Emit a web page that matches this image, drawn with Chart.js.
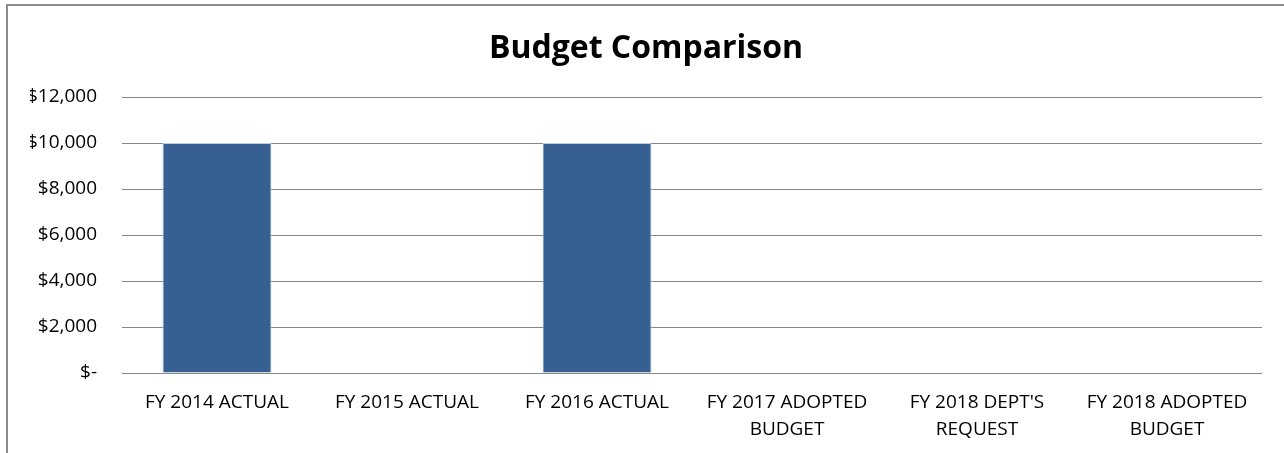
<!DOCTYPE html>
<html>
<head>
<meta charset="utf-8">
<script src="https://cdn.jsdelivr.net/npm/chart.js@4"></script>
<style>
  body { margin: 0; background: #fff; }
  #wrap { position: relative; width: 1284px; height: 453px; overflow: hidden; }
  #frame { position: absolute; left: 6px; top: 4px; width: 1300px; height: 470px;
           border-left: 2px solid #8c8c8c; border-top: 2px solid #8c8c8c; }
  #budgetChart { position: absolute; left: 0; top: 0; }
</style>
</head>
<body>
<div id="wrap">
  <div id="frame"></div>
  <canvas id="budgetChart" width="1284" height="453"></canvas>
</div>
<script>
// Budget figures per fiscal year
const categories = [
    'FY 2014 ACTUAL',
    'FY 2015 ACTUAL',
    'FY 2016 ACTUAL',
    ['FY 2017 ADOPTED', 'BUDGET'],
    ["FY 2018 DEPT'S", 'REQUEST'],
    ['FY 2018 ADOPTED', 'BUDGET']
];
const budgetValues = [10000, 0, 10000, 0, 0, 0];
const yTicks = [0, 2000, 4000, 6000, 8000, 10000, 12000];

const FONT = "'Open Sans', 'Liberation Sans', sans-serif";

// accounting style: zero shows as a dash
function money(v) {
    if (v === 0) return '$-';
    return '$' + v.toLocaleString('en-US');
}

const ctx = document.getElementById('budgetChart').getContext('2d');
const budgetChart = new Chart(ctx, {
    type: 'bar',
    data: {
        labels: categories,
        datasets: [{
            label: 'Budget',
            data: budgetValues,
            backgroundColor: '#376092',
            borderColor: '#b9cde5',
            borderWidth: 1,
            barPercentage: 0.574,
            categoryPercentage: 1.0
        }]
    },
    options: {
        responsive: false,
        animation: false,
        layout: {
            padding: { left: 30, right: 22, top: 0, bottom: 0 }
        },
        plugins: {
            legend: { display: false },
            tooltip: { enabled: false },
            title: {
                display: true,
                text: 'Budget Comparison',
                color: '#000',
                font: { family: FONT, size: 32, weight: 'bold', lineHeight: 1.2 },
                padding: { top: 30, bottom: 28.6 }
            }
        },
        scales: {
            x: {
                afterFit: function(scale) { scale.height = 80; },
                grid: { display: false },
                border: { display: false },
                ticks: {
                    color: '#000',
                    font: { family: FONT, size: 19, lineHeight: 1.42 },
                    maxRotation: 0,
                    autoSkip: false,
                    padding: 8
                }
            },
            y: {
                min: 0,
                max: 12000,
                afterFit: function(scale) { scale.width = 92; },
                afterBuildTicks: function(scale) {
                    scale.ticks = yTicks.map(v => ({ value: v }));
                },
                grid: { color: '#868686', lineWidth: 1, drawTicks: false },
                border: { display: false },
                ticks: {
                    color: '#000',
                    font: { family: FONT, size: 19 },
                    padding: 25,
                    callback: v => money(v)
                }
            }
        }
    }
});
</script>
</body>
</html>
